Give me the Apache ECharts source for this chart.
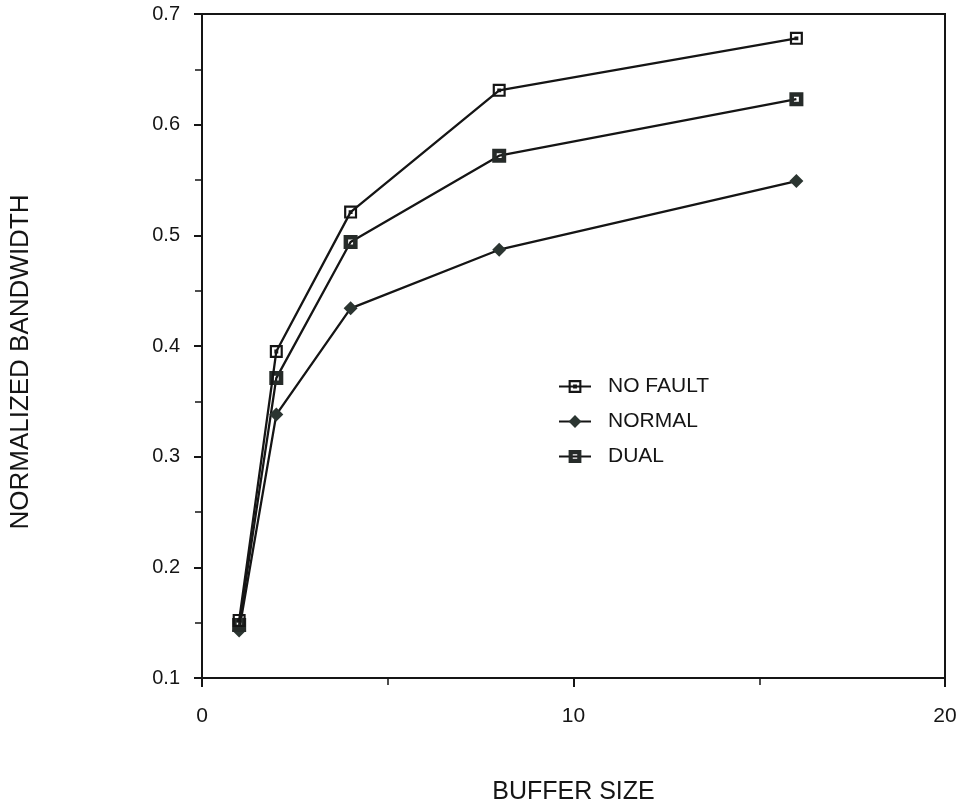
<!DOCTYPE html>
<html>
<head>
<meta charset="utf-8">
<script src="https://cdn.jsdelivr.net/npm/echarts@6/dist/echarts.min.js"></script>
<style>
  html, body { margin: 0; padding: 0; background: #fff; }
  #chart { width: 967px; height: 810px; }
</style>
</head>
<body>
<div id="chart"></div>
<script>
// Buffer sizes on the x axis
const bufferSizes = [1, 2, 4, 8, 16];

// Normalized bandwidth per configuration
const noFault = [0.152, 0.395, 0.521, 0.631, 0.678];
const normal  = [0.143, 0.338, 0.434, 0.487, 0.549];
const dual    = [0.148, 0.371, 0.494, 0.572, 0.623];

const seriesNames = ['NO FAULT', 'NORMAL', 'DUAL'];

// Open square with a small centre dot (outer ring + inner dot)
const dottedSquare = 'path://M0 0L12 0L12 12L0 12Z M2 2L2 10L10 10L10 2Z M4.2 4.2L7.8 4.2L7.8 7.8L4.2 7.8Z';
// Square with a thick border and small hollow centre
const heavySquare = 'path://M0 0L12 0L12 12L0 12Z M3.9 3.9L3.9 8.1L8.1 8.1L8.1 3.9Z';

const pairs = (ys) => bufferSizes.map((x, i) => [x, ys[i]]);

const FONT = '"Liberation Sans", Arial, Helvetica, sans-serif';
const INK = '#151515';

const chart = echarts.init(document.getElementById('chart'), null, { renderer: 'canvas' });

chart.setOption({
  backgroundColor: '#ffffff',
  animation: false,
  grid: {
    left: 202, right: 22, top: 14, bottom: 130,
    show: true, borderColor: INK, borderWidth: 2, backgroundColor: 'transparent'
  },
  legend: {
    orient: 'vertical',
    left: 553, top: 371,
    itemWidth: 32, itemHeight: 16, itemGap: 14,
    textStyle: { fontFamily: FONT, fontSize: 21, color: INK, padding: [0, 0, 0, 12] },
    data: seriesNames
  },
  xAxis: {
    type: 'value',
    min: 0, max: 20, interval: 10,
    name: 'BUFFER SIZE',
    nameLocation: 'middle',
    nameGap: 102,
    nameTextStyle: { fontFamily: FONT, fontSize: 25, color: INK },
    axisLine: { lineStyle: { color: INK, width: 2 } },
    axisTick: { inside: false, length: 9, lineStyle: { color: INK, width: 2 } },
    minorTick: { show: true, splitNumber: 2, length: 7, lineStyle: { color: INK, width: 1.5 } },
    axisLabel: { margin: 28, fontFamily: FONT, fontSize: 21, color: INK },
    splitLine: { show: false }
  },
  yAxis: {
    type: 'value',
    min: 0.1, max: 0.7, interval: 0.1,
    name: 'NORMALIZED BANDWIDTH',
    nameLocation: 'middle',
    nameGap: 168,
    nameTextStyle: { fontFamily: FONT, fontSize: 26, color: INK, padding: [0, 32, 0, 0] },
    axisLine: { lineStyle: { color: INK, width: 2 } },
    axisTick: { inside: false, length: 8, lineStyle: { color: INK, width: 2 } },
    minorTick: { show: true, splitNumber: 2, length: 7, lineStyle: { color: INK, width: 1.5 } },
    axisLabel: {
      margin: 22, fontFamily: FONT, fontSize: 20, color: INK,
      formatter: (v) => v.toFixed(1)
    },
    splitLine: { show: false }
  },
  series: [
    {
      name: 'NO FAULT', type: 'line', data: pairs(noFault),
      symbol: dottedSquare, symbolSize: 13, z: 4,
      lineStyle: { color: INK, width: 2.3 },
      itemStyle: { color: INK, borderWidth: 0 }
    },
    {
      name: 'NORMAL', type: 'line', data: pairs(normal),
      symbol: 'diamond', symbolSize: 14, z: 3,
      lineStyle: { color: INK, width: 2.3 },
      itemStyle: { color: '#2b3531', borderWidth: 0 }
    },
    {
      name: 'DUAL', type: 'line', data: pairs(dual),
      symbol: heavySquare, symbolSize: 14, z: 3,
      lineStyle: { color: INK, width: 2.3 },
      itemStyle: { color: '#262b29', borderWidth: 0 }
    }
  ]
});
</script>
</body>
</html>
